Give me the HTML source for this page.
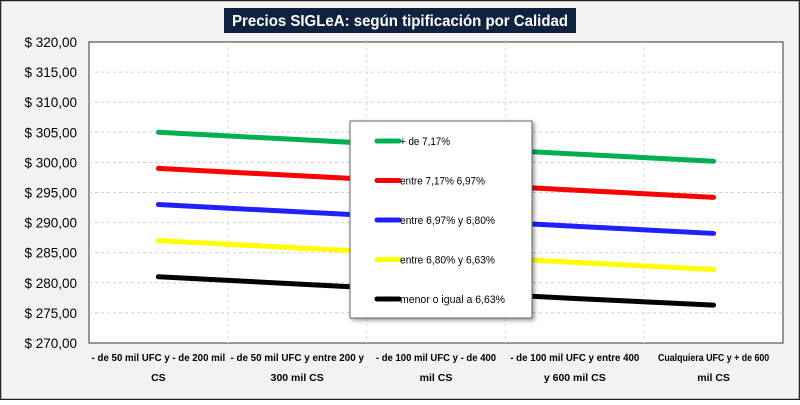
<!DOCTYPE html>
<html><head><meta charset="utf-8"><style>
body{margin:0;width:800px;height:400px;overflow:hidden;font-family:"Liberation Sans",sans-serif}
</style></head><body>
<svg id="c" width="800" height="400" xmlns="http://www.w3.org/2000/svg">
<rect x="0.5" y="0.5" width="799" height="399" fill="#f2f2f2" stroke="#222" stroke-width="1.5"/>
<rect x="224" y="8" width="352" height="25" fill="#0f2340"/>
<text x="400" y="26" text-anchor="middle" fill="#fff" font-size="16" font-weight="bold" textLength="336" lengthAdjust="spacingAndGlyphs">Precios SIGLeA: según tipificación por Calidad</text>
<rect x="89" y="42" width="694" height="301" fill="#fff" stroke="#555" stroke-width="1.2"/>
<g id="grid"></g><g id="series"></g><g id="axes"></g>
<g>
<rect x="350" y="121" width="182" height="197" fill="#fff" stroke="#666" stroke-width="1" style="filter:drop-shadow(2px 2px 2px rgba(0,0,0,.4))"/>
<g id="legend"></g>
</g>
</svg>
<script>
const categories=[["- de 50 mil UFC y - de 200 mil","CS"],["- de 50 mil UFC y entre  200 y","300 mil CS"],["- de 100 mil UFC y - de 400","mil CS"],["- de 100 mil UFC y entre  400","y 600 mil CS"],["Cualquiera UFC y + de 600","mil CS"]];
const seriesNames=["+ de 7,17%","entre 7,17% 6,97%","entre 6,97% y 6,80%","entre 6,80% y 6,63%","menor o igual a 6,63%"];
const seriesColors=["#00b050","#ff0000","#2020ff","#ffff00","#000000"];
const green=[305,303.8,302.6,301.4,300.2];
const red=[299,297.8,296.6,295.4,294.2];
const blue=[293,291.8,290.6,289.4,288.2];
const yellow=[287,285.8,284.6,283.4,282.2];
const black=[281,279.8,278.6,277.4,276.3];
const yTicks=[270,275,280,285,290,295,300,305,310,315,320];
const allSeries=[green,red,blue,yellow,black];
const L=89,R=783,T=42,B=343,ymin=270,ymax=320;
const bw=(R-L)/categories.length;
const xs=i=>L+bw*(i+0.5);
const ys=v=>B-(v-ymin)/(ymax-ymin)*(B-T);
const NS="http://www.w3.org/2000/svg";
function mk(tag,attrs,parent,txt){const e=document.createElementNS(NS,tag);for(const k in attrs)e.setAttribute(k,attrs[k]);if(txt!==undefined)e.textContent=txt;document.getElementById(parent).appendChild(e);return e;}
yTicks.forEach(t=>{
 if(t>ymin&&t<ymax){const g=mk('line',{x1:L,x2:R,y1:ys(t),y2:ys(t),stroke:'#e0c8c8','stroke-dasharray':'3,3'},'grid');
 
 }
 const lb=mk('text',{x:77,y:ys(t)+5,'text-anchor':'end','font-size':'13.5',fill:'#000'},'axes','$ '+t.toFixed(2).replace('.',','));
 
 
});
for(let i=1;i<categories.length;i++){const g=mk('line',{x1:L+bw*i,x2:L+bw*i,y1:T,y2:B,stroke:'#ddd','stroke-dasharray':'3,3'},'grid');
 
 }
categories.forEach((c,i)=>{c.forEach((ln,j)=>{
 const a={x:xs(i),y:361+j*20,'text-anchor':'middle','font-size':'10.5','font-weight':'bold',fill:'#000'};
 if(ln.length>12){a.textLength=(ln.length*4.45).toFixed(1);a.lengthAdjust='spacingAndGlyphs';}
 const t=mk('text',a,'axes',ln);
 
 });});
allSeries.forEach((s,k)=>{
 const p=mk('polyline',{points:s.map((v,i)=>xs(i)+','+ys(v)).join(' '),fill:'none',stroke:seriesColors[k],'stroke-width':'5','stroke-linecap':'round'},'series');
 
 
 const y=141+k*39.5;
 const m=mk('line',{x1:377,x2:399,y1:y,y2:y,stroke:seriesColors[k],'stroke-width':'5','stroke-linecap':'round'},'legend');
 
 
 const t=mk('text',{x:400,y:y+4,'font-size':'11',fill:'#000',textLength:(seriesNames[k].length*5).toFixed(1),lengthAdjust:'spacingAndGlyphs'},'legend',seriesNames[k]);
 
 
});
</script>
</body></html>
